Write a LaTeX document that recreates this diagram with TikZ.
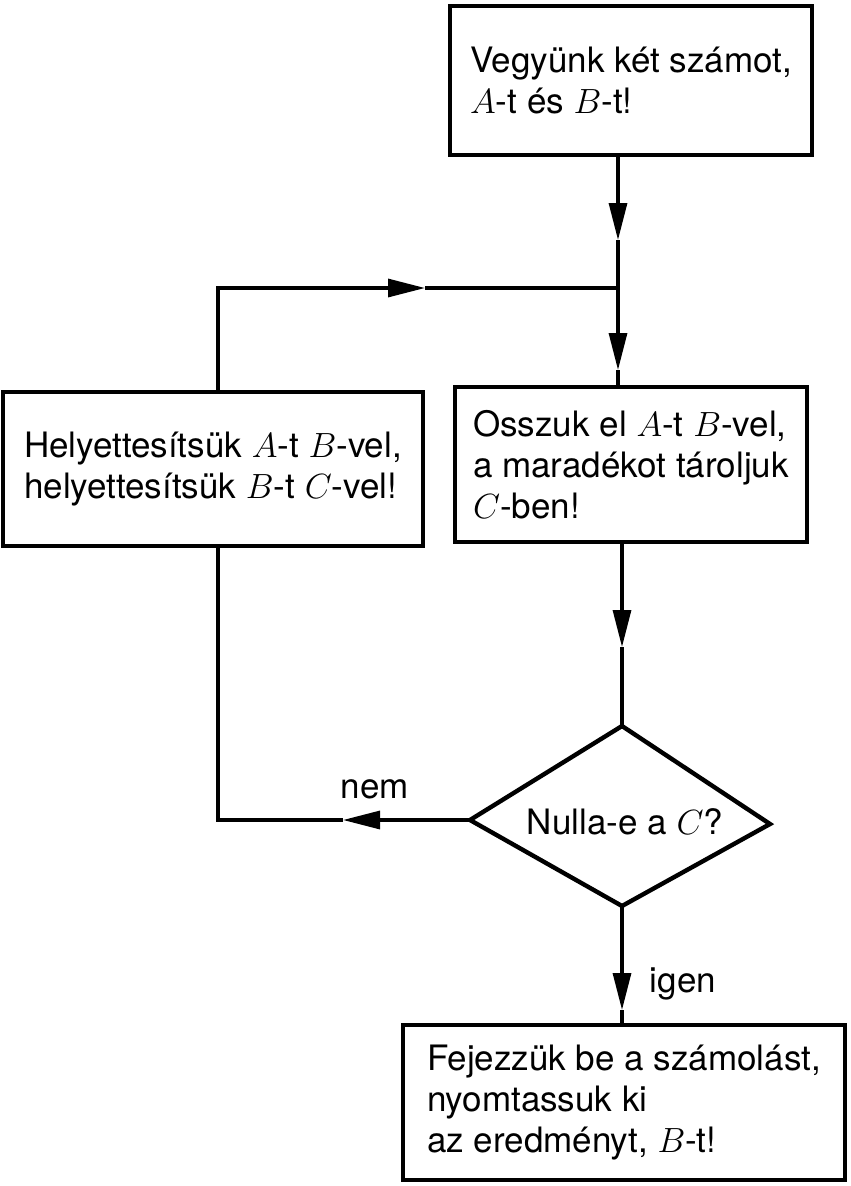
\documentclass[tikz,border=0pt]{standalone}
\usepackage{fix-cm}
\usepackage{fontspec}
\setmainfont{TeX Gyre Heros}
\usetikzlibrary{arrows.meta}
\tikzset{
  box/.style={draw, line width=4.2pt, align=left, inner sep=0pt,
    font=\fontsize{35}{41}\selectfont},
  conn/.style={line width=3.2pt},
  tip/.style={conn, -{Triangle[length=37pt,width=18pt]}},
  lbl/.style={font=\fontsize{35}{41}\selectfont, inner sep=0pt},
}
\begin{document}
\begin{tikzpicture}[x=1pt,y=-1pt]
\useasboundingbox (0,0) rectangle (851,1186);
% boxes
\node[box, minimum width=362pt, minimum height=149pt] (b1) at (631,80.5)
  {Vegyünk két számot,\\$A$-t és $B$-t!};
\node[box, minimum width=352pt, minimum height=155pt] (b3) at (631,464.5)
  {Osszuk el $A$-t $B$-vel,\\a maradékot tároljuk\\$C$-ben!};
\node[box, minimum width=420pt, minimum height=154pt] (b2) at (213,469)
  {Helyettesítsük $A$-t $B$-vel,\\helyettesítsük $B$-t $C$-vel!};
\node[box, minimum width=442pt, minimum height=155pt] (b4) at (624,1102.5)
  {Fejezzük be a számolást,\\nyomtassuk ki\\az eredményt, $B$-t!};
% diamond
\coordinate (dt) at (622,726);
\coordinate (dl) at (470,820);
\coordinate (dr) at (770,824);
\coordinate (db) at (622,906);
\draw[line width=4.4pt, line join=miter] (dt) -- (dr) -- (db) -- (dl) -- cycle;
\node[lbl] (dec) at (625,822) {Nulla-e a $C$?};
% coordinates
\coordinate (j) at (618,288);
\coordinate (t1) at (618,240);
\coordinate (t2) at (618,370);
\coordinate (c1) at (218,288);
\coordinate (t3) at (425,288);
\coordinate (t4) at (622,647);
\coordinate (c2) at (218,820);
\coordinate (t5) at (343,820);
\coordinate (t6) at (622,1010);
% connectors
\draw[tip] (b1.south -| j) -- (t1);
\draw[conn] (t1) -- (j);
\draw[tip] (j) -- (t2);
\draw[conn] (t2) -- (b3.north -| j);
\draw[tip] (b2.north -| c1) -- (c1) -- (t3);
\draw[conn] (t3) -- (j);
\draw[tip] (b3.south -| t4) -- (t4);
\draw[conn] (t4) -- (dt);
\draw[tip] (dl) -- (t5);
\draw[conn] (t5) -- (c2) -- (b2.south -| c2);
\draw[tip] (db) -- (t6);
\draw[conn] (t6) -- (b4.north -| t6);
% labels
\node[lbl] (nem) at (375,789) {nem};
\node[lbl] (igen) at (683,984) {igen};
\end{tikzpicture}
\end{document}
